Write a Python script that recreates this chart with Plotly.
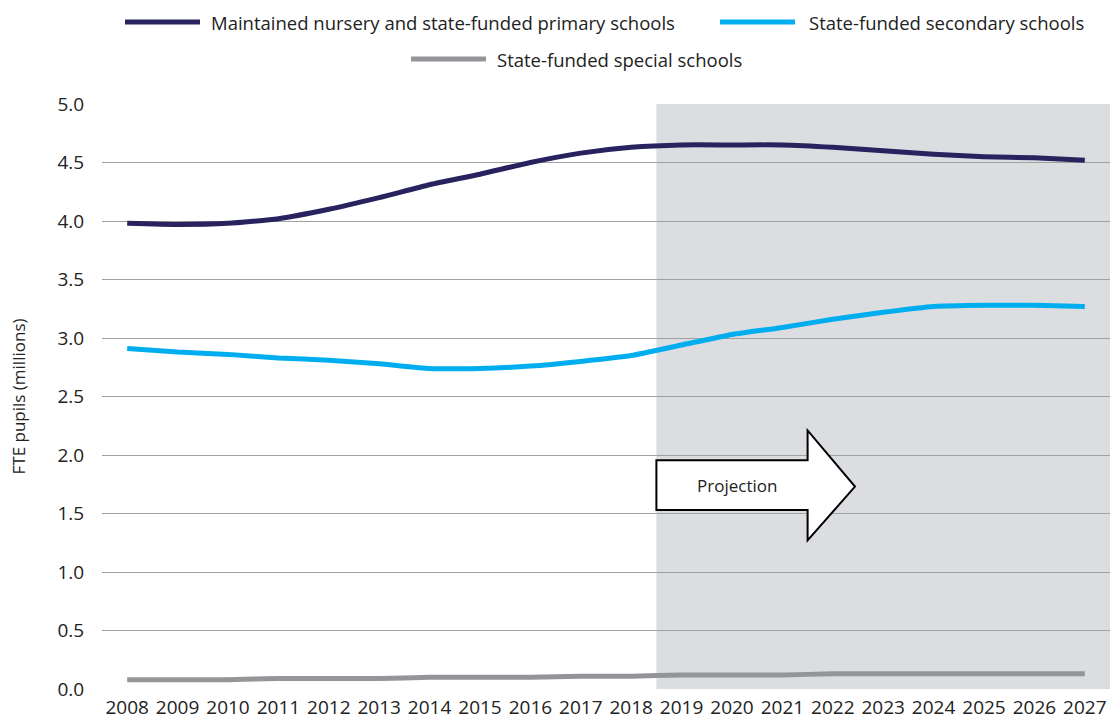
import plotly.graph_objects as go

years = list(range(2008, 2028))
primary = [3.98, 3.97, 3.98, 4.02, 4.10, 4.20, 4.31, 4.40, 4.50, 4.58, 4.63,
           4.65, 4.65, 4.65, 4.63, 4.60, 4.57, 4.55, 4.54, 4.52]
secondary = [2.91, 2.88, 2.86, 2.83, 2.81, 2.78, 2.74, 2.74, 2.76, 2.80, 2.85,
             2.94, 3.03, 3.09, 3.16, 3.22, 3.27, 3.28, 3.28, 3.27]
special = [0.08, 0.08, 0.08, 0.09, 0.09, 0.09, 0.10, 0.10, 0.10, 0.11, 0.11,
           0.12, 0.12, 0.12, 0.13, 0.13, 0.13, 0.13, 0.13, 0.13]

names = ["Maintained nursery and state-funded primary schools",
         "State-funded secondary schools",
         "State-funded special schools"]
colors = ["#28225f", "#00aeef", "#939598"]
series = [primary, secondary, special]

FONT = "Open Sans"
TXT = "#222222"

W, H = 1111, 720
ML, MR, MT, MB = 102, 1, 104, 31
PW, PH = W - ML - MR, H - MT - MB


def px2paper(px, py):
    """screen pixel -> paper coords"""
    return (px - ML) / PW, (H - MB - py) / PH


fig = go.Figure()
for n, c, s in zip(names, colors, series):
    fig.add_trace(go.Scatter(x=years, y=s, name=n, mode="lines", showlegend=False,
                             line=dict(color=c, width=5, shape="spline", smoothing=0.5)))

# projection shading
fig.add_shape(type="rect", xref="x", yref="y", x0=2018.5, x1=2027.5, y0=0, y1=5,
              fillcolor="#dcdde0", line=dict(width=0), layer="below")

# projection arrow
fig.add_shape(type="path", xref="x", yref="y",
              path="M 2018.5,1.955 L 2021.5,1.955 L 2021.5,2.21 L 2022.44,1.73 "
                   "L 2021.5,1.27 L 2021.5,1.53 L 2018.5,1.53 Z",
              fillcolor="white", line=dict(color="black", width=2), layer="above")
fig.add_annotation(x=2020.1, y=1.74, xref="x", yref="y", text="Projection",
                   showarrow=False, font=dict(family=FONT, size=17, color=TXT))

# manual legend (line sample start px, row y px, text start px) in screen pixels
legend_pos = [(125, 22, 209), (720, 22, 807), (411, 59, 495)]
for (lx, ly, tx), n, c in zip(legend_pos, names, colors):
    x0, y0 = px2paper(lx, ly)
    x1, _ = px2paper(lx + 75, ly)
    fig.add_shape(type="line", xref="paper", yref="paper", x0=x0, x1=x1, y0=y0, y1=y0,
                  line=dict(color=c, width=5))
    tx0, _ = px2paper(tx, ly)
    fig.add_annotation(xref="paper", yref="paper", x=tx0, y=y0, text=n, showarrow=False,
                       xanchor="left", yanchor="middle",
                       font=dict(family=FONT, size=18.5, color=TXT))

fig.update_layout(
    width=W, height=H,
    margin=dict(l=ML, r=MR, t=MT, b=MB, autoexpand=False),
    paper_bgcolor="white", plot_bgcolor="white",
    font=dict(family=FONT, size=17, color=TXT),
    showlegend=False,
    xaxis=dict(range=[2007.5, 2027.5], tickmode="array", tickvals=years,
               ticktext=[str(y) for y in years], showgrid=False, zeroline=False,
               ticks="outside", ticklen=1, tickcolor="rgba(0,0,0,0)",
               tickfont=dict(family=FONT, size=19, color=TXT),
               showline=False, automargin=False),
    yaxis=dict(range=[0, 5], dtick=0.5, tickformat=".1f", showgrid=True,
               gridcolor="#a0a0a0", gridwidth=1, zeroline=False,
               ticks="outside", ticklen=13, tickcolor="rgba(0,0,0,0)",
               tickfont=dict(family=FONT, size=19, color=TXT), automargin=False,
               title=dict(text="FTE pupils (millions)", standoff=27,
                          font=dict(family=FONT, size=17, color=TXT))),
)

fig.write_html("out.html",
               config={"displayModeBar": False},
               post_script="document.body.style.margin='0';"
                           "document.body.style.overflow='hidden';")
